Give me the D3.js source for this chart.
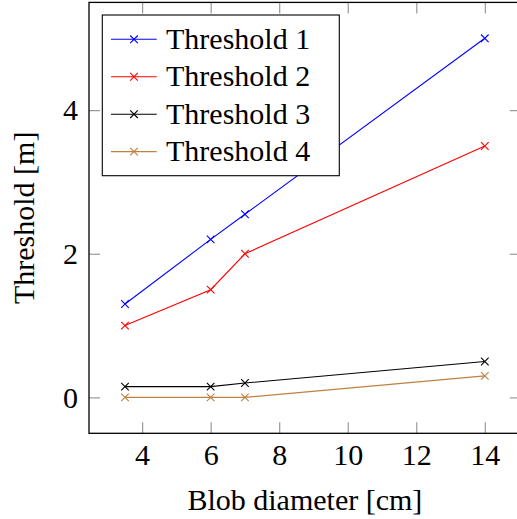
<!DOCTYPE html>
<html>
<head>
<meta charset="utf-8">
<script src="https://cdn.jsdelivr.net/npm/d3@7"></script>
<style>
  body { margin: 0; background: #fff; }
</style>
</head>
<body>
<script>
// Data
const diameters = [3.5, 6, 7, 14];
const threshold1 = [1.3, 2.2, 2.55, 5.0];
const threshold2 = [1.0, 1.5, 2.0, 3.5];
const threshold3 = [0.15, 0.15, 0.2, 0.5];
const threshold4 = [0.0, 0.0, 0.0, 0.3];
const seriesNames = ["Threshold 1", "Threshold 2", "Threshold 3", "Threshold 4"];
const seriesColors = ["#0000ff", "#ff0000", "#000000", "#bf8040"];
const xTicks = [4, 6, 8, 10, 12, 14];
const yTicks = [0, 2, 4];

const allSeries = [threshold1, threshold2, threshold3, threshold4];

// Dimensions
const width = 517;
const height = 519;
const plotLeft = 89, plotRight = 520.8, plotTop = 2.4, plotBottom = 433.3;
// the serif face is only picked up to 30px in this browser
const fontSize = 30;
const fontFamily = "'Liberation Serif'";

const svg = d3.select("body")
    .append("svg")
    .attr("width", width)
    .attr("height", height);

// Scales (pgfplots style: 10% enlargement of data range)
const x = d3.scaleLinear().domain([2.45, 15.05]).range([plotLeft, plotRight]);
const y = d3.scaleLinear().domain([-0.5, 5.5]).range([plotBottom, plotTop]);

function setFont(sel) {
    sel.style("font-family", fontFamily)
        .style("font-size", fontSize + "px")
        .attr("fill", "#000");
}

// Ticks on all four sides, pointing inwards
function styleAxis(g) {
    g.attr("font-family", null).attr("font-size", null);
    g.select(".domain").remove();
    g.selectAll(".tick line").attr("stroke", "#999").attr("stroke-width", 1.2);
    g.selectAll(".tick text").call(setFont);
}

svg.append("g")
    .attr("transform", `translate(0,${plotBottom})`)
    .call(d3.axisBottom(x).tickValues(xTicks).tickSize(-11).tickPadding(10.4).tickFormat(d3.format("d")))
    .call(styleAxis);

svg.append("g")
    .attr("transform", `translate(0,${plotTop})`)
    .call(d3.axisTop(x).tickValues(xTicks).tickSize(-11).tickFormat(""))
    .call(styleAxis);

svg.append("g")
    .attr("transform", `translate(${plotLeft},0)`)
    .call(d3.axisLeft(y).tickValues(yTicks).tickSize(-11).tickPadding(11).tickFormat(d3.format("d")))
    .call(styleAxis);

svg.append("g")
    .attr("transform", `translate(${plotRight},0)`)
    .call(d3.axisRight(y).tickValues(yTicks).tickSize(-11).tickFormat(""))
    .call(styleAxis);

// Axis frame
svg.append("rect")
    .attr("x", plotLeft)
    .attr("y", plotTop)
    .attr("width", plotRight - plotLeft)
    .attr("height", plotBottom - plotTop)
    .attr("fill", "none")
    .attr("stroke", "#000")
    .attr("stroke-width", 1.3);

// Lines and cross markers
const line = d3.line()
    .x((d, i) => x(diameters[i]))
    .y(d => y(d));

function cross(g, cx, cy, color) {
    const s = 3.8;
    g.append("path")
        .attr("d", `M${cx - s},${cy - s}L${cx + s},${cy + s}M${cx - s},${cy + s}L${cx + s},${cy - s}`)
        .attr("stroke", color)
        .attr("stroke-width", 1.1)
        .attr("fill", "none");
}

allSeries.forEach((values, k) => {
    const g = svg.append("g");
    g.append("path")
        .datum(values)
        .attr("d", line)
        .attr("fill", "none")
        .attr("stroke", seriesColors[k])
        .attr("stroke-width", 1.1);
    values.forEach((v, i) => cross(g, x(diameters[i]), y(v), seriesColors[k]));
});

// Legend
const legend = svg.append("g");
legend.append("rect")
    .attr("x", 102.3)
    .attr("y", 15)
    .attr("width", 237)
    .attr("height", 160.7)
    .attr("fill", "#fff")
    .attr("stroke", "#000")
    .attr("stroke-width", 1.1);

seriesNames.forEach((name, k) => {
    const ry = 39.3 + k * 37.45;
    legend.append("line")
        .attr("x1", 111).attr("x2", 156.7)
        .attr("y1", ry).attr("y2", ry)
        .attr("stroke", seriesColors[k])
        .attr("stroke-width", 1.1);
    cross(legend, 134, ry, seriesColors[k]);
    legend.append("text")
        .attr("x", 166)
        .attr("y", ry + 9.5)
        .call(setFont)
        .text(name);
});

// Axis titles
svg.append("text")
    .attr("x", (plotLeft + plotRight) / 2)
    .attr("y", 510)
    .attr("text-anchor", "middle")
    .call(setFont)
    .text("Blob diameter [cm]");

svg.append("text")
    .attr("transform", `translate(33.5,${(plotTop + plotBottom) / 2}) rotate(-90)`)
    .attr("text-anchor", "middle")
    .call(setFont)
    .text("Threshold [m]");
</script>
</body>
</html>
